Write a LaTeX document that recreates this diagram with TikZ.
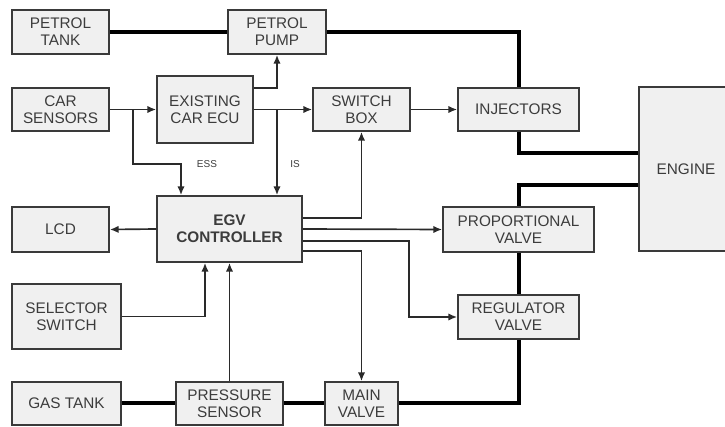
\documentclass[tikz,border=0pt]{standalone}
\usepackage{fontspec}
\setmainfont{Liberation Sans}
\usetikzlibrary{arrows.meta}
\definecolor{boxfill}{HTML}{F0F0F0}
\definecolor{boxline}{HTML}{3A3A3A}
\definecolor{txt}{HTML}{3C3C3C}
\definecolor{conn}{HTML}{2A2A2A}
\begin{document}
\begin{tikzpicture}[x=0.75pt,y=-0.75pt,
  box/.style={draw=boxline,fill=boxfill,line width=1.3pt,inner sep=1pt,align=center,
    text=txt,font=\fontsize{11.5}{12.75}\selectfont},
  sig/.style={draw=conn,line width=1.25pt,-{Latex[length=6.5pt,width=5.5pt]}},
  pipe/.style={draw=black,line width=3pt},
  lab/.style={text=txt,font=\fontsize{7.5}{8}\selectfont,inner sep=0pt}]
\useasboundingbox (0,0) rectangle (725,427);
\clip (0,0) rectangle (725,427);
\fill[white] (0,0) rectangle (725,427);
% boxes
\node[box,minimum width=72.75pt,minimum height=33pt] (ptank) at (60.5,32) {PETROL\\TANK};
\node[box,minimum width=73.5pt,minimum height=33pt] (ppump) at (277,32) {PETROL\\PUMP};
\node[box,minimum width=72.75pt,minimum height=32.25pt] (csens) at (60.5,109.5) {CAR\\SENSORS};
\node[box,minimum width=72pt,minimum height=50.25pt] (ecu) at (205,109.5) {EXISTING\\CAR ECU};
\node[box,minimum width=72.75pt,minimum height=32.25pt] (sbox) at (361.5,109.5) {SWITCH\\BOX};
\node[box,minimum width=90.75pt,minimum height=32.25pt] (inj) at (518.5,109.5) {INJECTORS};
\node[box,minimum width=81pt,minimum height=123pt] (engine) at (693,169) {ENGINE\hspace*{10.5pt}};
\node[box,minimum width=72.75pt,minimum height=33.75pt] (lcd) at (60.5,229.5) {LCD};
\node[box,minimum width=108.75pt,minimum height=49.5pt,font=\fontsize{11.5}{12.75}\selectfont\bfseries] (egv) at (229.5,229) {EGV\\CONTROLLER};
\node[box,minimum width=113.25pt,minimum height=33.75pt] (prop) at (518.5,229.5) {PROPORTIONAL\\VALVE};
\node[box,minimum width=81.75pt,minimum height=48.75pt] (sel) at (66.5,316.5) {SELECTOR\\SWITCH};
\node[box,minimum width=90.75pt,minimum height=33pt] (reg) at (518.5,317) {REGULATOR\\VALVE};
\node[box,minimum width=81.75pt,minimum height=32.25pt] (gas) at (66.5,403.5) {GAS TANK};
\node[box,minimum width=80.25pt,minimum height=32.25pt] (psens) at (229.5,403.5) {PRESSURE\\SENSOR};
\node[box,minimum width=54.75pt,minimum height=32.25pt] (main) at (361.5,403.5) {MAIN\\VALVE};
% pipes (thick)
\draw[pipe] (ptank.east) -- (ppump.west);
\draw[pipe] (ppump.east) -| (inj.north);
\draw[pipe] (inj.south) |- (engine.west |- 0,153);
\draw[pipe] (engine.west |- 0,185) -| (prop.north);
\draw[pipe] (prop.south) -- (reg.north);
\draw[pipe] (reg.south) |- (main.east);
\draw[pipe] (gas.east) -- (psens.west);
\draw[pipe] (psens.east) -- (main.west);
% signals
\coordinate (j1) at (133,109.5);
\coordinate (ess) at (181,164);
\coordinate (j2) at (277,109.5);
\coordinate (e1) at (277,88);
\coordinate (s1) at (205,316.5);
\coordinate (r1) at (409,241);
\coordinate (m1) at (361.5,251);
\coordinate (b1) at (361.5,218);
\draw[sig] (csens.east) -- (ecu.west);
\draw[sig] (j1) |- (ess) -- (ess |- egv.north);
\draw[sig] (ecu.east |- e1) -| (ppump.south);
\draw[sig] (ecu.east) -- (sbox.west);
\draw[sig] (j2) -- (j2 |- egv.north);
\draw[sig] (sbox.east) -- (inj.west);
\draw[sig] (egv.west) -- (lcd.east);
\draw[sig] (sel.east |- s1) -| (s1 |- egv.south);
\draw[sig] (psens.north) -- (egv.south);
\draw[sig] (egv.east |- b1) -| (sbox.south);
\draw[sig] (egv.east) -- (prop.west);
\draw[sig] (egv.east |- r1) -- (r1) |- (reg.west);
\draw[sig] (egv.east |- m1) -| (main.north);
% labels
\node[lab] (lbless) at (207,164) {ESS};
\node[lab] (lblis) at (295,164) {IS};
\end{tikzpicture}
\end{document}
